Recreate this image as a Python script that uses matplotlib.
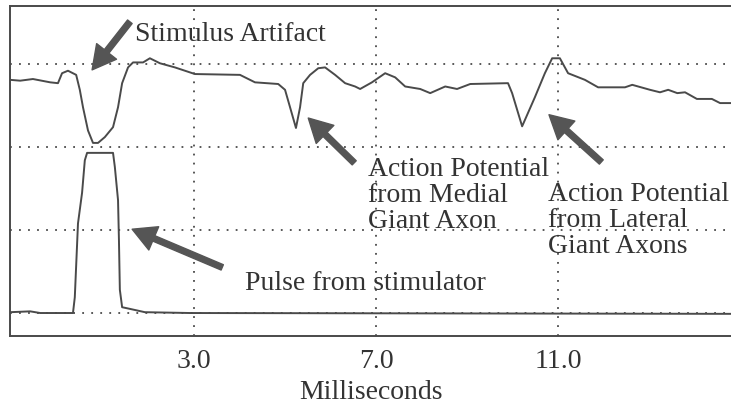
import numpy as np
from matplotlib import pyplot as plt

# upper trace: recorded nerve response (ms, arbitrary units)
t_nerve = [-1.04, -0.82, -0.54, -0.16, 0.01, 0.10, 0.23, 0.41, 0.49, 0.56, 0.67,
           0.78, 0.89, 1.04, 1.22, 1.33, 1.42, 1.55, 1.66, 1.88, 2.03, 2.25,
           2.58, 3.02, 4.01, 4.34, 4.85, 5.00, 5.11, 5.24, 5.33, 5.40, 5.55,
           5.73, 5.88, 6.10, 6.32, 6.54, 6.65, 6.91, 7.20, 7.42, 7.64, 7.97,
           8.19, 8.52, 8.78, 9.07, 9.90, 9.99, 10.21, 10.49, 10.71, 10.87,
           11.04, 11.22, 11.59, 11.88, 12.47, 12.63, 13.02, 13.24, 13.42,
           13.62, 13.79, 14.05, 14.38, 14.56, 14.80]
v_nerve = [2.81, 2.80, 2.82, 2.78, 2.77, 2.89, 2.92, 2.87, 2.69, 2.48, 2.20,
           2.05, 2.05, 2.12, 2.24, 2.48, 2.77, 2.96, 3.02, 3.02, 3.07, 3.01,
           2.96, 2.88, 2.87, 2.78, 2.76, 2.69, 2.48, 2.23, 2.48, 2.77, 2.87,
           2.95, 2.96, 2.87, 2.77, 2.73, 2.70, 2.78, 2.89, 2.84, 2.73, 2.70,
           2.65, 2.73, 2.70, 2.76, 2.77, 2.65, 2.25, 2.60, 2.89, 3.07,
           3.07, 2.89, 2.81, 2.72, 2.72, 2.75, 2.69, 2.66, 2.69,
           2.65, 2.66, 2.58, 2.58, 2.53, 2.53]

# lower trace: stimulator pulse
t_pulse = [-1.04, -0.60, -0.38, 0.34, 0.38, 0.45, 0.54, 0.60, 0.65, 1.22, 1.26,
           1.33, 1.35, 1.37, 1.42, 1.59, 1.92, 2.91, 14.80]
v_pulse = [0.01, 0.02, 0.00, 0.00, 0.19, 1.08, 1.45, 1.84, 1.93, 1.93, 1.76,
           1.36, 0.88, 0.28, 0.07, 0.05, 0.01, 0.00, -0.01]

xticks = [3.0, 7.0, 11.0]
xtick_labels = ["3.0", "7.0", "11.0"]
ygrid = [0, 1, 2, 3]

ink = "#4a4a4a"
txt = "#333333"
plt.rcParams['font.family'] = ['Liberation Serif', 'DejaVu Serif']

fig = plt.figure(figsize=(7.31, 4.08), dpi=100)
ax = fig.add_axes([10 / 731, 72 / 408, 721 / 731, 330 / 408])

ax.plot(t_nerve, v_nerve, color=ink, lw=1.4)
ax.plot(t_pulse, v_pulse, color=ink, lw=1.4)

for x in xticks:
    ax.axvline(x, color=ink, lw=1.3, ls=(0, (1, 4)))
for y in ygrid:
    ax.axhline(y, color=ink, lw=1.3, ls=(0, (1, 4)))

ax.set_xlim(-1.044, 14.80)
ax.set_ylim(-0.277, 3.70)
ax.set_xticks(xticks)
ax.set_xticklabels(xtick_labels, fontsize=20, color=txt)
ax.tick_params(axis='x', length=0, pad=9)
ax.set_yticks([])
ax.spines['right'].set_visible(False)
for s in ['left', 'top', 'bottom']:
    ax.spines[s].set_color(ink)
    ax.spines[s].set_linewidth(1.4)
ax.set_xlabel("Milliseconds", fontsize=20, color=txt, labelpad=5)

arrow = dict(arrowstyle="simple,head_length=1.3,head_width=1.4,tail_width=0.32",
             color="#555555", shrinkA=0, shrinkB=0, mutation_scale=13)

ax.annotate("", xy=(0.76, 2.93), xytext=(1.59, 3.51), arrowprops=arrow)
ax.annotate("", xy=(5.51, 2.35), xytext=(6.52, 1.81), arrowprops=arrow)
ax.annotate("", xy=(10.80, 2.39), xytext=(11.95, 1.82), arrowprops=arrow)
ax.annotate("", xy=(1.64, 1.01), xytext=(3.62, 0.55), arrowprops=arrow)

# va='baseline' on multi-line text anchors the last line
kw = dict(fontsize=20, color=txt, ha='left', va='baseline', linespacing=1.05)
ax.text(1.70, 3.28, "Stimulus Artifact", **kw)
ax.text(6.82, 1.02, "Action Potential\nfrom Medial\nGiant Axon", **kw)
ax.text(10.78, 0.72, "Action Potential\nfrom Lateral\nGiant Axons", **kw)
ax.text(4.12, 0.28, "Pulse from stimulator", **kw)

fig.savefig("out.png", dpi=100)
